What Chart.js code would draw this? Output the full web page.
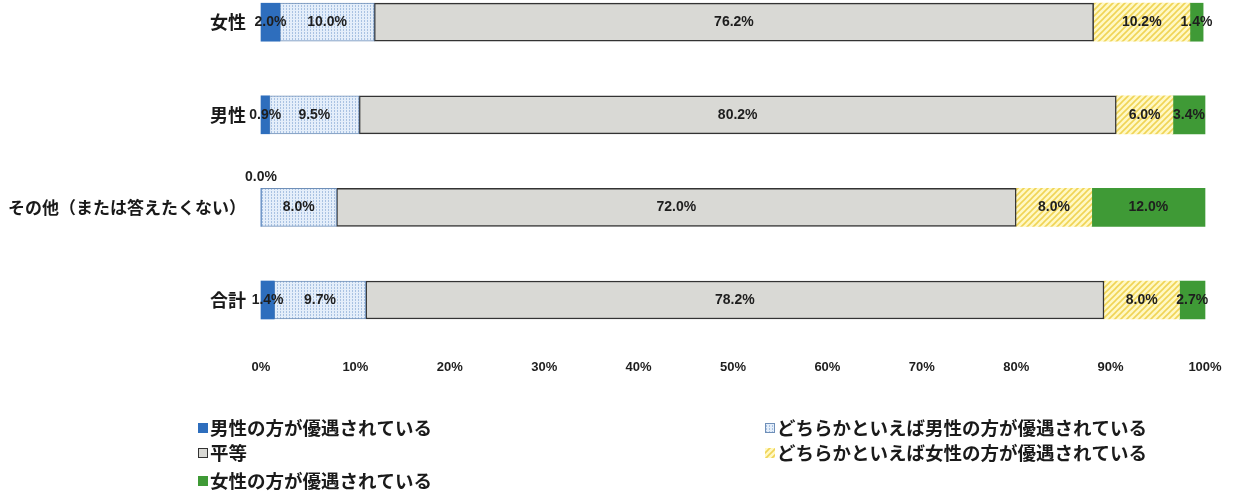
<!DOCTYPE html>
<html>
<head>
<meta charset="utf-8">
<script src="https://cdn.jsdelivr.net/npm/chart.js@4"></script>
<style>
  html, body { margin: 0; padding: 0; background: #fff; }
  #wrap { width: 1239px; height: 492px; position: relative; }
</style>
</head>
<body>
<div id="wrap"><canvas id="chart" width="1239" height="492"></canvas></div>
<script>
// Data
const categories = ['女性', '男性', 'その他（または答えたくない）', '合計'];
const seriesNames = [
  '男性の方が優遇されている',
  'どちらかといえば男性の方が優遇されている',
  '平等',
  'どちらかといえば女性の方が優遇されている',
  '女性の方が優遇されている'
];
const maleFavored = [2.0, 0.9, 0.0, 1.4];
const ratherMale = [10.0, 9.5, 8.0, 9.7];
const equal = [76.2, 80.2, 72.0, 78.2];
const ratherFemale = [10.2, 6.0, 8.0, 8.0];
const femaleFavored = [1.4, 3.4, 12.0, 2.7];
const xTicks = [0, 10, 20, 30, 40, 50, 60, 70, 80, 90, 100];

// Fill patterns
function dotPattern() {
  const c = document.createElement('canvas');
  c.width = 3; c.height = 3;
  const g = c.getContext('2d');
  g.fillStyle = '#e4eefa';
  g.fillRect(0, 0, 3, 3);
  g.fillStyle = '#a9c2e2';
  g.fillRect(1, 0, 1, 1);
  g.fillRect(1, 2, 1, 1);
  return g.createPattern(c, 'repeat');
}
function hatchPattern() {
  const c = document.createElement('canvas');
  c.width = 6; c.height = 6;
  const g = c.getContext('2d');
  g.fillStyle = '#fff8c4';
  g.fillRect(0, 0, 6, 6);
  g.strokeStyle = '#f0d456';
  g.lineWidth = 1.6;
  g.beginPath();
  g.moveTo(-1, 7); g.lineTo(7, -1);
  g.moveTo(-4, 4); g.lineTo(4, -4);
  g.moveTo(2, 10); g.lineTo(10, 2);
  g.stroke();
  return g.createPattern(c, 'repeat');
}

const fills = ['#2e6ebd', dotPattern(), '#d9d9d5', hatchPattern(), '#3f9a36'];
const borders = ['#2e6ebd', '#6f8fb8', '#333333', '#f0d456', '#3f9a36'];
const borderWidths = [0, 1, 1.5, 0, 0];
const values = [maleFavored, ratherMale, equal, ratherFemale, femaleFavored];

const datasets = seriesNames.map((name, i) => ({
  label: name,
  data: values[i],
  backgroundColor: fills[i],
  borderColor: borders[i],
  borderWidth: borderWidths[i],
  borderSkipped: false,
  barThickness: 38,
  clip: false
}));

// Value labels centered in each segment
const valueLabels = {
  id: 'valueLabels',
  afterDatasetsDraw(chart) {
    const ctx = chart.ctx;
    ctx.save();
    ctx.font = 'bold 14px "Liberation Sans", Arial, sans-serif';
    ctx.fillStyle = '#1e1e1e';
    ctx.textAlign = 'center';
    ctx.textBaseline = 'middle';
    chart.data.datasets.forEach((ds, di) => {
      const meta = chart.getDatasetMeta(di);
      meta.data.forEach((bar, j) => {
        const v = ds.data[j];
        const text = v.toFixed(1) + '%';
        if (v === 0) {
          ctx.fillText(text, bar.base, bar.y - bar.height / 2 - 11);
        } else {
          ctx.fillText(text, (bar.x + bar.base) / 2, bar.y);
        }
      });
    });
    ctx.restore();
  }
};

// Legend in two columns under the axis
const gridLegend = {
  id: 'gridLegend',
  afterDraw(chart) {
    const ctx = chart.ctx;
    const spots = [
      [198, 428], [765, 428],
      [198, 453], [765, 453],
      [198, 481]
    ];
    ctx.save();
    ctx.font = 'bold 18.5px "Noto Sans CJK JP", sans-serif';
    ctx.textBaseline = 'middle';
    ctx.textAlign = 'left';
    chart.data.datasets.forEach((ds, i) => {
      const [x, y] = spots[i];
      ctx.fillStyle = ds.backgroundColor;
      ctx.fillRect(x, y - 5, 10, 10);
      if (ds.borderWidth) {
        ctx.strokeStyle = ds.borderColor;
        ctx.lineWidth = 1;
        ctx.strokeRect(x + 0.5, y - 4.5, 9, 9);
      }
      ctx.fillStyle = '#1a1a1a';
      ctx.fillText(ds.label, x + 12, y);
    });
    ctx.restore();
  }
};

new Chart(document.getElementById('chart'), {
  type: 'bar',
  data: { labels: categories, datasets: datasets },
  options: {
    indexAxis: 'y',
    responsive: false,
    animation: false,
    layout: { padding: { top: 22, right: 34, left: 0, bottom: 0 } },
    plugins: {
      legend: { display: false },
      tooltip: { enabled: false }
    },
    scales: {
      x: {
        stacked: true,
        min: 0,
        max: 100,
        afterBuildTicks: (s) => { s.ticks = xTicks.map(v => ({ value: v })); },
        afterFit: (s) => { s.height = 192; },
        grid: { display: false, drawTicks: true, tickLength: 58 },
        border: { display: false },
        ticks: {
          padding: 2,
          color: '#1e1e1e',
          font: { family: '"Liberation Sans", Arial, sans-serif', size: 13, weight: 'bold' },
          callback: (v) => v + '%'
        }
      },
      y: {
        stacked: true,
        offset: false,
        afterFit: (s) => { s.width = 261; },
        grid: { display: false, drawTicks: false, offset: false },
        border: { display: false },
        ticks: {
          padding: 15,
          color: '#1a1a1a',
          font: (c) => ({
            family: '"Noto Sans CJK JP", sans-serif',
            size: c.index === 2 ? 17 : 18,
            weight: 'bold',
            lineHeight: 0.8
          })
        }
      }
    }
  },
  plugins: [valueLabels, gridLegend]
});
</script>
</body>
</html>
